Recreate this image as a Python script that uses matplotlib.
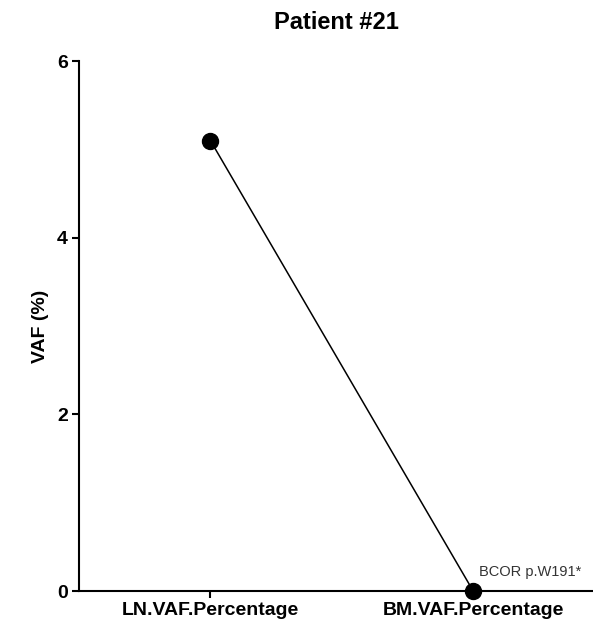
import matplotlib
matplotlib.use("Agg")
import matplotlib.pyplot as plt

plt.rcParams['font.family'] = ['Liberation Sans', 'DejaVu Sans']

# VAF per sample for the single BCOR variant
samples = ["LN.VAF.Percentage", "BM.VAF.Percentage"]
vaf = [5.1, 0.0]
mutation = "BCOR p.W191*"
y_ticks = [0, 2, 4, 6]

fig = plt.figure(figsize=(5.93, 6.25), dpi=100)
ax = fig.add_axes([0.1332, 0.0544, 0.8668, 0.848])

x = list(range(len(samples)))
ax.plot(x, vaf, color='black', lw=1.1, marker='o', markersize=11.5,
        clip_on=False, zorder=3)

ax.annotate(mutation, xy=(x[-1], vaf[-1]), xytext=(4, 14),
            textcoords='offset points', fontsize=10.5, color='#333333',
            ha='left', va='center')

ax.set_xlim(-0.5, 1.456)
ax.set_ylim(0, 6)
ax.set_xticks(x)
ax.set_xticklabels(samples, fontsize=14, fontweight='bold')
ax.set_yticks(y_ticks)
ax.set_yticklabels([str(t) for t in y_ticks], fontsize=14, fontweight='bold')
ax.tick_params(axis='both', direction='out', length=5, width=1.5, pad=3)
ax.set_ylabel("VAF (%)", fontsize=14, fontweight='bold', labelpad=6)
ax.set_title("Patient #21", fontsize=17, fontweight='bold', pad=23)

for side in ['top', 'right']:
    ax.spines[side].set_visible(False)
for side in ['left', 'bottom']:
    ax.spines[side].set_linewidth(1.5)

fig.savefig("out.png", dpi=100)
